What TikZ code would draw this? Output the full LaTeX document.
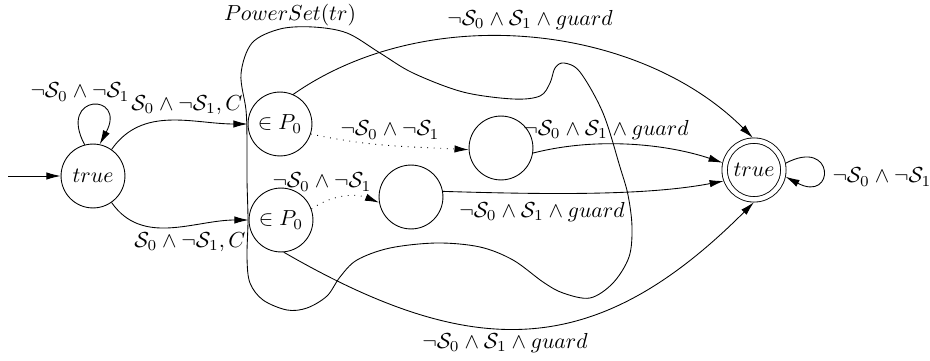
\documentclass[tikz,border=0pt]{standalone}
\usetikzlibrary{arrows.meta}
\begin{document}
\begin{tikzpicture}[x=0.46pt,y=-0.46pt,
  >={Latex[length=6.5pt,width=3.4pt]},
  st/.style={circle,draw,minimum size=29.4pt,inner sep=0pt},
  acc/.style={circle,draw,double,double distance=2.1pt,minimum size=27pt,inner sep=0pt,outer sep=1.3pt},
  lbl/.style={inner sep=0pt},
  dots/.style={dash pattern=on 0.4pt off 2.6pt}]
\useasboundingbox (0,0) rectangle (930,361);
% blob
\draw plot[smooth cycle,tension=0.55] coordinates {
 (241,74) (252,43) (280,29) (313,27) (347,33) (380,53) (413,73) (463,92) (513,99)
 (540,96) (550,83) (555,68) (564,63) (580,72) (603,113) (620,167) (628,195) (632,227)
 (629,257) (613,283) (590,298) (563,293) (543,282) (513,260) (480,247) (437,243)
 (390,248) (357,260) (340,277) (327,296) (307,308) (287,310) (263,300) (250,283)
 (247,258) (248,220) (247,180) (247,140) (246,110)};
\node[lbl] (ps) at (290,15) {$PowerSet(tr)$};
% states
\node[st] (init) at (93,176) {$true$};
\node[st] (p1) at (280,124) {$\in P_0$};
\node[st] (p2) at (281,220) {$\in P_0$};
\node[st] (m1) at (501,148) {};
\node[st] (m2) at (411,197) {};
\node[acc] (fin) at (754,170) {$true$};
\coordinate (start) at (8,176);
% edges
\draw[->] (start) -- (init);
\draw[->] (init.105) .. controls +(118:27pt) and +(62:27pt) .. (init.78);
\node[lbl] (l0) at (80,92) {$\neg\mathcal{S}_0\wedge\neg\mathcal{S}_1$};
\draw[->] (init) to[out=55,in=180] (p1);
\node[lbl] (l1) at (187,105) {$\mathcal{S}_0\wedge\neg\mathcal{S}_1, C$};
\draw[->] (init) to[out=-55,in=180] (p2);
\node[lbl] (l2) at (190,242) {$\mathcal{S}_0\wedge\neg\mathcal{S}_1, C$};
\draw[->,dots] (p1.-18) to[out=-12,in=177] (m1.183);
\node[lbl] (l3) at (390,130) {$\neg\mathcal{S}_0\wedge\neg\mathcal{S}_1$};
\draw[->,dots] (p2.20) .. controls (335,193) and (358,194) .. (m2.190);
\node[lbl] (l4) at (322,182) {$\neg\mathcal{S}_0\wedge\neg\mathcal{S}_1$};
\draw[->] (m1.-9) .. controls (600,136) and (670,145) .. (fin.167);
\node[lbl] (l5) at (606,130) {$\neg\mathcal{S}_0\wedge\mathcal{S}_1\wedge guard$};
\draw[->] (m2.10) .. controls (560,195) and (650,195) .. (fin.200);
\node[lbl] (l6) at (542,212) {$\neg\mathcal{S}_0\wedge\mathcal{S}_1\wedge guard$};
\draw[->] (p1.66) to[out=35,in=135,looseness=0.9] (fin.92);
\node[lbl] (l7) at (530,20) {$\neg\mathcal{S}_0\wedge\mathcal{S}_1\wedge guard$};
\draw[->] (p2.-85) to[out=-30,in=225,looseness=1.2] (fin.-90);
\node[lbl] (l8) at (505,343) {$\neg\mathcal{S}_0\wedge\mathcal{S}_1\wedge guard$};
\draw[->] (fin.12) .. controls +(28:26pt) and +(-28:26pt) .. (fin.-12);
\node[lbl] (l9) at (882,177) {$\neg\mathcal{S}_0\wedge\neg\mathcal{S}_1$};
\end{tikzpicture}
\end{document}
